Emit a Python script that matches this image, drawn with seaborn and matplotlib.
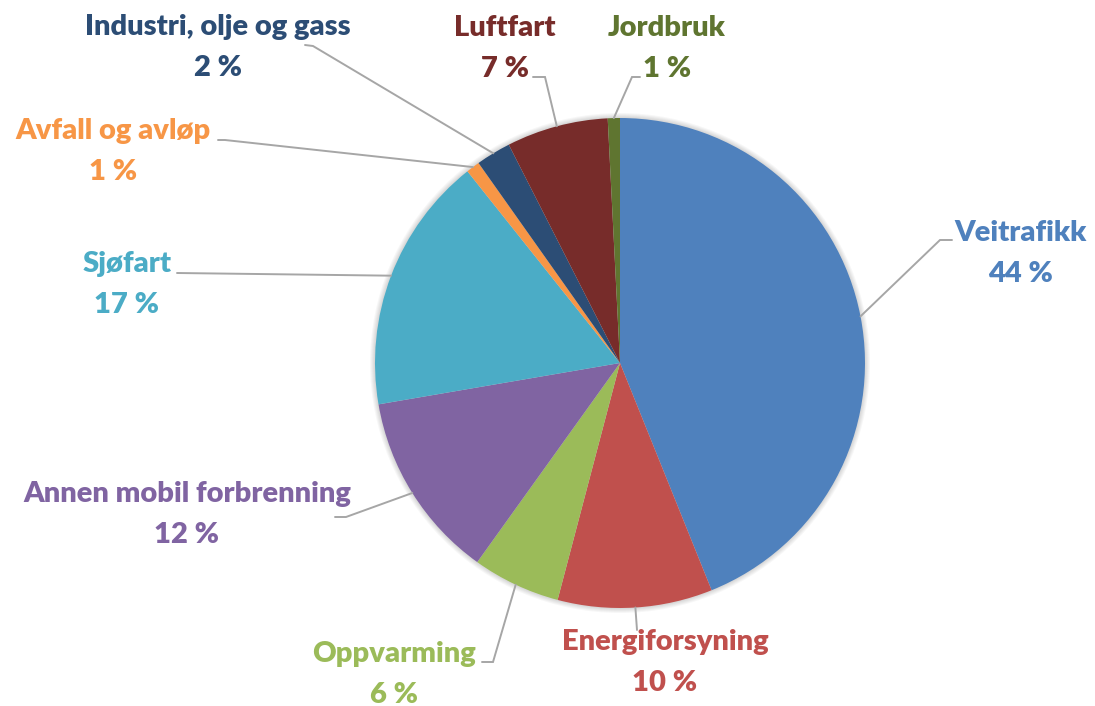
import numpy as np
import matplotlib
matplotlib.use("Agg")
import matplotlib.pyplot as plt
import seaborn as sns
from matplotlib.patches import Circle

# data (clockwise from top)
sektorer = ["Veitrafikk", "Energiforsyning", "Oppvarming", "Annen mobil forbrenning",
            "Sjøfart", "Avfall og avløp", "Industri, olje og gass", "Luftfart", "Jordbruk"]
andel = [43.9, 10.2, 5.8, 12.4, 17.0, 0.9, 2.3, 6.7, 0.8]
farger = ["#4F81BD", "#C0504D", "#9BBB59", "#8064A2", "#4BACC6",
          "#F79646", "#2C4D75", "#772C2A", "#5F7530"]

# label layout in pixels (x center, name baseline) and leader start / elbow
W, H = 1095, 706
etikett_pos = [(1021, 241), (665, 650), (394, 662), (187, 502), (127, 272),
               (113, 139), (218, 35), (505, 36), (667, 36)]
linje_start = [(952, 240), (637, 630), (482, 662), (335, 517), (177, 273),
               (218, 140), (305, 45), (533, 77), (640, 77)]
linje_knekk = [(940, 240), (637, 630), (493, 662), (346, 517), (177, 273),
               (225, 140), (313, 46), (545, 77), (632, 77)]

sns.set_theme(style="white")
plt.rcParams['font.family'] = ['Lato', 'DejaVu Sans']

fig = plt.figure(figsize=(W / 100, H / 100), dpi=100)
ax = fig.add_axes([0, 0, 1, 1])

cx, cy, r = 620, H - 363, 245

# soft glow around pie
for i in range(5, 0, -1):
    ax.add_patch(Circle((cx, cy), r + i, color="black", alpha=0.03, lw=0, zorder=0))

wedges, _ = ax.pie(andel, colors=farger, startangle=90, counterclock=False,
                   center=(cx, cy), radius=r, wedgeprops=dict(linewidth=0))

ax.set_xlim(0, W)
ax.set_ylim(0, H)
ax.set_aspect('equal')
ax.axis('off')

for w, navn, v, col, (tx, ty), (sx, sy), (kx, ky) in zip(
        wedges, sektorer, andel, farger, etikett_pos, linje_start, linje_knekk):
    mid = np.deg2rad((w.theta1 + w.theta2) / 2)
    ex, ey = cx + r * np.cos(mid), cy + r * np.sin(mid)
    ax.plot([sx, kx, ex], [H - sy, H - ky, ey], color="#A6A6A6", lw=1.4,
            solid_joinstyle="miter", zorder=1)
    ax.text(tx, H - ty, navn, ha="center", va="baseline", color=col,
            fontsize=21, fontweight="heavy")
    ax.text(tx, H - ty - 41, f"{round(v)} %", ha="center", va="baseline", color=col,
            fontsize=21, fontweight="heavy")

fig.savefig("out.png", dpi=100)
